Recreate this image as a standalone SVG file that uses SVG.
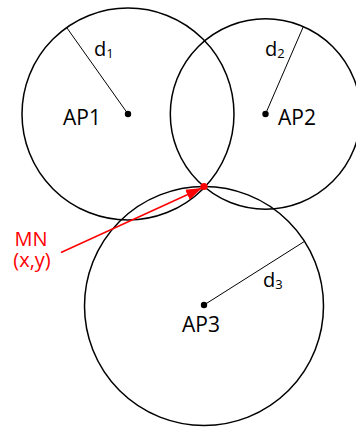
<svg xmlns="http://www.w3.org/2000/svg" width="356" height="427" viewBox="0 0 356 427">
<style>
.ring{fill:none;stroke:#000;stroke-width:1.5}
.dot{fill:#000}
.rad{stroke:#000;stroke-width:1;fill:none}
.lbl{font-family:"Open Sans","Noto Sans",sans-serif;font-size:21px;fill:#000}
.dl{font-family:"Open Sans","Noto Sans",sans-serif;font-size:20px;fill:#000}
.sub{font-size:13px}
.red{fill:#ff0000}
.mn{font-family:"Open Sans","Noto Sans",sans-serif;font-size:20px;fill:#ff0000}
</style>
<defs>
<marker id="ah" markerUnits="userSpaceOnUse" markerWidth="17" markerHeight="12" refX="16" refY="5.5" orient="auto">
<path d="M0,0 L16,5.5 L0,11 z" fill="#ff0000"/>
</marker>
</defs>
<rect width="356" height="427" fill="#fff"/>
<g id="AP1">
<circle class="ring" cx="128" cy="114" r="106"/>
<circle class="dot" cx="128" cy="114" r="3.2"/>
<text class="lbl" x="63" y="125">AP1</text>
</g>
<g id="AP2">
<circle class="ring" cx="265.5" cy="114" r="95.2"/>
<circle class="dot" cx="265.5" cy="114" r="3.2"/>
<text class="lbl" x="278" y="125">AP2</text>
</g>
<g id="AP3">
<circle class="ring" cx="204" cy="306" r="119.5"/>
<circle class="dot" cx="204" cy="305" r="3.2"/>
<text class="lbl" x="182" y="332">AP3</text>
</g>
<g id="MN">
<circle class="red" cx="204" cy="186.5" r="3.6"/>
<text class="mn" text-anchor="middle"><tspan x="31" y="246">MN</tspan><tspan x="32" y="267">(x,y)</tspan></text>
</g>
<g id="connectors">
<line class="rad" x1="128" y1="114" x2="67" y2="28"/>
<line class="rad" x1="265.5" y1="114" x2="303.3" y2="26.7"/>
<line class="rad" x1="204" y1="305" x2="304" y2="241.7"/>
<line x1="61" y1="252.5" x2="202" y2="188" stroke="#ff0000" stroke-width="1.5" marker-end="url(#ah)"/>
</g>
<g id="labels">
<text class="dl" x="94" y="56">d<tspan class="sub" dy="2">1</tspan></text>
<text class="dl" x="265" y="56">d<tspan class="sub" dy="2">2</tspan></text>
<text class="dl" x="263" y="287">d<tspan class="sub" dy="2">3</tspan></text>
</g>
</svg>
